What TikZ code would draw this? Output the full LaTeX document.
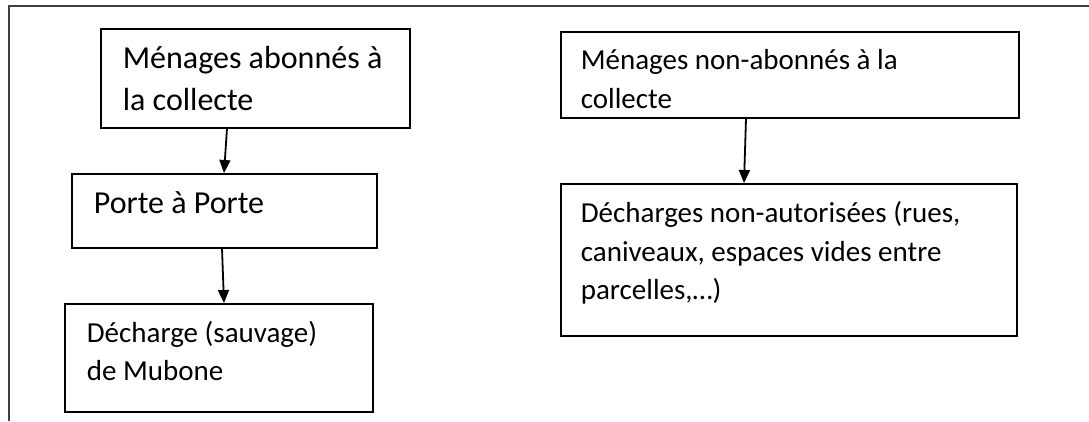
\documentclass[tikz,border=0pt]{standalone}
\usepackage{fontspec}
\setmainfont{Carlito}
\usetikzlibrary{arrows.meta}
% #1 width, #2 height, #3 font size, #4 baselineskip, #5 left inset, #6 first baseline offset, #7 text
\newcommand\mybx[7]{\parbox[t][#2pt][t]{#1pt}{\fontsize{#3}{#4}\selectfont\raggedright\leftskip=#5pt\rule{0pt}{#6pt}#7}}
\begin{document}
\begin{tikzpicture}[x=1pt,y=-1pt,
  bx/.style={draw, line width=1.7pt, inner sep=0pt, anchor=north west},
  arr/.style={line width=1.8pt, -{Triangle[width=11pt,length=13pt]}},
  frameline/.style={line width=1.4pt, draw=black!75}]
\useasboundingbox (0,0) rectangle (1089,421);
\coordinate (ftl) at (9,6);
\coordinate (ftr) at (1089,6);
\coordinate (fbl) at (9,421);
\draw[frameline] (ftr) -- (ftl) -- (fbl);
\node[bx] (A) at (100,28) {\mybx{309}{99}{32}{42}{22}{40}{Ménages abonnés à\\la collecte}};
\node[bx] (B) at (71,173) {\mybx{305}{74}{32}{42}{22}{40}{Porte à Porte}};
\node[bx] (C) at (64,303) {\mybx{308}{108}{29}{38}{22}{39}{Décharge (sauvage)\\de Mubone}};
\node[bx] (D) at (560,31) {\mybx{458}{86}{29}{39}{20}{38}{Ménages non-abonnés à la\\collecte}};
\node[bx] (E) at (560,183) {\mybx{456}{152}{29}{38.3}{20}{39}{Décharges non-autorisées (rues,\\caniveaux, espaces vides entre\\parcelles,…)}};
\draw[arr] ([xshift=127pt]A.south west) -- ([xshift=153pt]B.north west);
\draw[arr] ([xshift=151pt]B.south west) -- ([xshift=160pt]C.north west);
\draw[arr] ([xshift=186pt]D.south west) -- ([xshift=184pt]E.north west);
\end{tikzpicture}
\end{document}
